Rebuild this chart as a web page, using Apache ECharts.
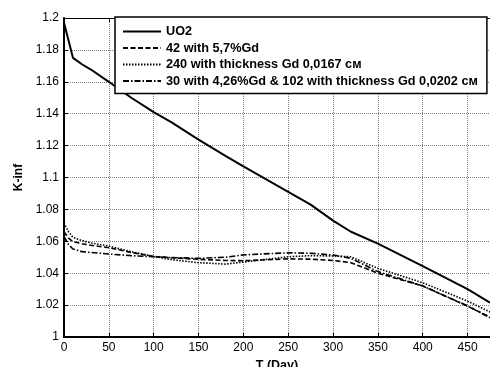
<!DOCTYPE html>
<html>
<head>
<meta charset="utf-8">
<script src="https://cdn.jsdelivr.net/npm/echarts@6/dist/echarts.min.js"></script>
<style>
  html, body { margin: 0; padding: 0; background: #fff; }
  #chart { width: 490px; height: 367px; }
</style>
</head>
<body>
<div id="chart"></div>
<script>
// burnup days (x) shared by all series
const days = [0, 5, 10, 20, 30, 50, 75, 100, 120, 150, 180, 200, 250, 275, 300, 320, 350, 400, 450, 475];

const uo2 = [1.197, 1.186, 1.175, 1.171, 1.1677, 1.160, 1.150, 1.141, 1.1346, 1.1238, 1.1135, 1.107, 1.091, 1.083, 1.073, 1.066, 1.0585, 1.0445, 1.030, 1.0215];
const gd42 = [1.066, 1.062, 1.0598, 1.0585, 1.0575, 1.056, 1.053, 1.0505, 1.0497, 1.0487, 1.048, 1.0478, 1.049, 1.0488, 1.048, 1.0466, 1.040, 1.032, 1.0193, 1.0125];
const gd240 = [1.0715, 1.066, 1.0625, 1.0605, 1.059, 1.057, 1.0535, 1.0505, 1.0485, 1.0466, 1.0457, 1.047, 1.0503, 1.051, 1.0508, 1.0503, 1.043, 1.034, 1.0225, 1.0157];
const gdMix = [1.063, 1.058, 1.0552, 1.0535, 1.053, 1.052, 1.051, 1.0503, 1.0498, 1.0493, 1.050, 1.0515, 1.0528, 1.0525, 1.0514, 1.0493, 1.041, 1.032, 1.0195, 1.012];

const seriesNames = [
  "UO2",
  "42 with 5,7%Gd",
  "240 with thickness Gd 0,0167 см",
  "30 with 4,26%Gd & 102 with thickness Gd 0,0202 см",
];

const toPairs = (vals) => days.map((d, i) => [d, vals[i]]);

const chart = echarts.init(document.getElementById("chart"));

const font = "'Liberation Sans', Arial, sans-serif";

const gridLine = {
  show: true,
  lineStyle: { color: "#808080", type: [1, 1], width: 1 },
};

const mkLine = (name, vals, type, width) => ({
  name: name,
  type: "line",
  data: toPairs(vals),
  symbol: "none",
  smooth: false,
  lineStyle: { color: "#000", width: width, type: type },
  itemStyle: { color: "#000" },
  z: 3,
});

chart.setOption({
  animation: false,
  backgroundColor: "#fff",
  textStyle: { fontFamily: font },
  grid: { left: 64, right: 0, top: 18, bottom: 30, outerBoundsMode: "none" },
  legend: {
    orient: "vertical",
    left: 115,
    top: 17,
    data: seriesNames,
    backgroundColor: "#fff",
    borderColor: "#000",
    borderWidth: 1.5,
    borderRadius: 0,
    padding: [8, 9, 6, 7],
    itemWidth: 38,
    itemHeight: 14,
    itemGap: 3.5,
    itemStyle: { opacity: 0, borderWidth: 0 },
    textStyle: { color: "#000", fontSize: 12.7, fontWeight: "bold", fontFamily: font },
    z: 10,
  },
  xAxis: [
    {
      type: "value",
      min: 0,
      max: 475,
      interval: 50,
      name: "T (Day)",
      nameLocation: "middle",
      nameGap: 20,
      nameTextStyle: { color: "#000", fontSize: 12.5, fontWeight: "bold" },
      axisLine: { show: true, onZero: false, lineStyle: { color: "#000", width: 2 } },
      axisTick: { show: true, inside: true, length: 4, lineStyle: { color: "#000" } },
      axisLabel: { color: "#000", fontSize: 12, margin: 5, showMaxLabel: false },
      splitLine: gridLine,
    },
    {
      type: "value",
      position: "top",
      min: 0,
      max: 475,
      interval: 50,
      axisLine: { show: true, onZero: false, lineStyle: { color: "#000", width: 1 } },
      axisTick: { show: true, inside: true, length: 4, lineStyle: { color: "#000" } },
      axisLabel: { show: false },
      splitLine: { show: false },
    },
  ],
  yAxis: {
    type: "value",
    min: 1,
    max: 1.2,
    interval: 0.02,
    name: "K-inf",
    nameLocation: "middle",
    nameGap: 34,
    nameTextStyle: { color: "#000", fontSize: 12, fontWeight: "bold" },
    axisLine: { show: true, lineStyle: { color: "#000", width: 2 } },
    axisTick: { show: true, inside: true, length: 4, lineStyle: { color: "#000" } },
    axisLabel: {
      color: "#000",
      fontSize: 12,
      margin: 5,
      formatter: (v) => String(parseFloat(v.toFixed(2))),
    },
    splitLine: gridLine,
  },
  series: [
    mkLine(seriesNames[0], uo2, "solid", 2),
    mkLine(seriesNames[1], gd42, [5, 2.5], 1.6),
    mkLine(seriesNames[2], gd240, [1.5, 1.5], 1.6),
    mkLine(seriesNames[3], gdMix, [6, 2, 1.5, 2], 1.6),
  ],
});
</script>
</body>
</html>
